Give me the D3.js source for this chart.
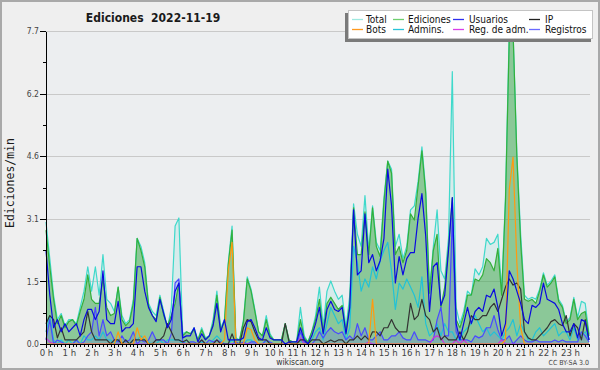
<!DOCTYPE html>
<html>
<head>
<meta charset="utf-8">
<style>

body {
  margin: 0;
  background: #efefef;
}

.axis path,
.axis line {
  stroke: #000;
  shape-rendering: crispEdges;
}

.axis text {
  font-family: "DejaVu Sans Condensed", "DejaVu Sans", sans-serif;
  fill: #444;
}

.grid line {
  stroke: #c9c9c9;
  shape-rendering: crispEdges;
}

.serie {
  fill: none;
  stroke-width: 1.2;
  stroke-linejoin: round;
}

.legend text {
  font-family: "DejaVu Sans Condensed", "DejaVu Sans", sans-serif;
  font-size: 10px;
  fill: #111;
}

</style>
</head>
<body>
<svg width="600" height="370"></svg>
<script src="https://d3js.org/d3.v7.min.js"></script>
<script>

// edits per minute, one value every 10 minutes (144 slots)
var total = [
  3.0, 2.1, 1.2, 0.6, 0.75, 0.45,   0.6, 0.6, 0.5, 0.9, 1.3, 1.9,
  1.3, 1.9, 1.2, 2.2, 1.1, 1.0,     0.8, 1.4, 0.7, 0.5, 0.6, 1.1,
  2.6, 2.4, 2.0, 1.0, 0.8, 0.7,     1.2, 0.8, 0.4, 0.9, 2.9, 3.1,
  0.25, 0.3, 0.25, 0.4, 0.1, 0.4,   0.15, 0.2, 0.6, 1.3, 0.4, 0.6,
  2.0, 2.9, 0.15, 0.1, 0.6, 1.65,   1.35, 0.85, 0.3, 0.2, 0.7, 0.25,
  0.1, 0.1, 0.1, 0.5, 0.1, 0.05,    0.05, 0.9, 0.2, 0.05, 0.3, 0.7,
  1.4, 0.45, 1.3, 1.55, 1.3, 1.1,   1.2, 0.4, 1.2, 3.45, 2.7, 2.4,
  3.65, 2.3, 3.4, 2.5, 2.3, 3.6,    4.5, 4.3, 2.4, 2.7, 2.1, 2.4,
  3.3, 3.4, 4.0, 4.85, 3.8, 1.3,    2.4, 3.3, 1.8, 1.6, 2.6, 6.7,
  0.9, 0.5, 0.8, 1.3, 1.2, 1.85,    1.7, 1.9, 2.6, 2.45, 2.5, 2.7,
  1.3, 3.6, 7.7, 7.7, 4.7, 2.7,     1.2, 1.1, 1.15, 1.1, 1.35, 1.75,
  1.45, 1.55, 1.7, 1.1, 0.95, 0.55, 0.65, 1.15, 0.65, 1.05, 1.0, 0.25
];

var ediciones = [
  2.8, 1.9, 1.1, 0.5, 0.7, 0.4,     0.55, 0.6, 0.45, 0.8, 1.1, 1.7,
  1.1, 1.0, 1.0, 1.6, 0.9, 0.7,     0.75, 1.4, 0.6, 0.45, 0.55, 1.0,
  2.6, 2.3, 1.9, 0.95, 0.7, 0.6,    1.15, 0.7, 0.45, 0.7, 1.0, 1.5,
  0.2, 0.3, 0.25, 0.35, 0.1, 0.35,  0.12, 0.2, 0.5, 1.2, 0.35, 0.55,
  1.95, 2.8, 0.1, 0.1, 0.55, 1.6,   1.3, 0.8, 0.3, 0.2, 0.6, 0.2,
  0.1, 0.1, 0.1, 0.5, 0.1, 0.05,    0.05, 0.6, 0.15, 0.05, 0.3, 0.6,
  1.1, 0.3, 1.0, 1.15, 1.0, 0.85,   0.95, 0.3, 1.0, 3.35, 2.2, 2.2,
  3.25, 2.2, 3.35, 2.4, 2.15, 3.5,  4.5, 4.2, 2.2, 2.4, 2.0, 2.3,
  3.2, 3.05, 3.9, 4.75, 3.7, 1.25,  2.3, 2.7, 0.9, 1.4, 2.4, 3.6,
  0.6, 0.4, 0.7, 1.2, 1.2, 1.6,     1.55, 1.7, 2.1, 2.0, 1.8, 2.35,
  1.2, 3.5, 7.5, 7.7, 4.6, 2.5,     1.1, 1.05, 1.1, 1.0, 1.3, 1.7,
  1.4, 1.5, 1.65, 1.05, 0.9, 0.5,   0.6, 1.1, 0.6, 0.75, 0.8, 0.2
];

var usuarios = [
  2.3, 1.2, 0.4, 0.6, 0.3, 0.5,     0.3, 0.4, 0.5, 0.2, 0.6, 0.85,
  0.85, 0.6, 0.8, 1.8, 0.6, 0.5,    0.5, 1.05, 0.3, 0.4, 0.4, 0.5,
  1.9, 1.9, 1.3, 0.9, 0.7, 0.55,    1.1, 0.75, 0.4, 0.6, 1.3, 1.5,
  0.15, 0.2, 0.2, 0.4, 0.05, 0.25,  0.1, 0.2, 0.45, 1.0, 0.3, 0.6,
  0.1, 0.1, 0.1, 0.1, 0.15, 0.55,   0.6, 0.4, 0.15, 0.1, 0.4, 0.15,
  0.1, 0.1, 0.1, 0.0, 0.05, 0.05,   0.05, 0.4, 0.1, 0.0, 0.2, 0.5,
  0.9, 0.25, 0.85, 1.05, 0.85, 0.8, 0.9, 0.25, 0.9, 3.3, 1.7, 1.8,
  3.2, 2.0, 2.2, 1.8, 2.05, 2.6,    4.3, 3.4, 1.5, 2.15, 1.7, 2.1,
  2.25, 2.25, 3.1, 3.7, 2.65, 0.8,  1.9, 2.0, 0.95, 1.2, 2.3, 3.6,
  0.5, 0.1, 0.5, 0.9, 0.5, 0.8,     0.9, 0.8, 1.2, 1.15, 1.35, 0.9,
  0.2, 0.5, 1.8, 1.6, 1.3, 1.0,     0.6, 0.5, 0.95, 0.9, 1.0, 1.5,
  1.1, 1.05, 1.0, 0.85, 0.5, 0.3,   0.3, 0.5, 0.15, 0.6, 0.55, 0.1
];

var ip = [
  0.5, 0.7, 0.6, 0.15, 0.4, 0.1,    0.1, 0.1, 0.1, 0.2, 0.3, 0.8,
  0.3, 0.1, 0.1, 0.1, 0.1, 0.0,     0.1, 0.1, 0.0, 0.1, 0.0, 0.1,
  0.1, 0.1, 0.1, 0.0, 0.0, 0.1,     0.1, 0.2, 0.5, 0.3, 0.1, 0.1,
  0.05, 0.1, 0.0, 0.0, 0.0, 0.1,    0.0, 0.0, 0.0, 0.1, 0.0, 0.0,
  0.0, 0.25, 0.0, 0.0, 0.4, 0.6,    0.55, 0.3, 0.1, 0.1, 0.1, 0.0,
  0.0, 0.0, 0.0, 0.5, 0.05, 0.0,    0.0, 0.1, 0.1, 0.0, 0.1, 0.1,
  0.1, 0.0, 0.05, 0.1, 0.05, 0.1,   0.1, 0.0, 0.1, 0.1, 0.2, 0.1,
  0.2, 0.1, 0.3, 0.3, 0.2, 0.4,     0.4, 0.6, 0.4, 0.3, 0.3, 0.3,
  1.0, 0.6, 0.7, 1.1, 0.7, 0.6,     0.3, 0.4, 0.1, 0.2, 0.1, 0.1,
  0.1, 0.3, 0.1, 0.3, 0.7, 0.6,     0.6, 0.7, 0.7, 0.9, 1.0, 0.8,
  1.1, 1.4, 1.6, 1.45, 1.5, 1.35,   0.3, 0.15, 0.1, 0.1, 0.2, 0.3,
  0.4, 0.55, 0.6, 0.5, 0.45, 0.7,   0.2, 0.5, 0.4, 0.1, 0.6, 0.1
];

var bots = [
  0, 0, 0, 0, 0, 0,       0, 0, 0, 0, 0, 0,
  0, 0, 0, 0, 0, 0,       0, 0.3, 0, 0, 0, 0,
  0.4, 0.1, 0.2, 0, 0, 0, 0, 0, 0, 0, 0, 0,
  0, 0, 0, 0, 0, 0,       0, 0, 0, 0, 0, 0.1,
  1.8, 2.5, 0, 0, 0, 0.4, 0.35, 0.1, 0, 0, 0, 0,
  0, 0, 0, 0, 0, 0,       0, 0, 0, 0, 0, 0,
  0, 0, 0, 0, 0, 0,       0, 0, 0, 0, 0, 0,
  0, 0, 1.1, 0, 0, 0,     0, 0, 0, 0, 0, 0,
  0, 0, 0, 0, 0, 0,       0, 0, 0, 0, 0, 0,
  0, 0, 0, 0, 0, 0,       0, 0, 0, 0, 0, 0,
  0, 0.1, 3.8, 4.6, 2.0, 0.4, 0, 0, 0, 0, 0, 0,
  0, 0, 0, 0, 0, 0,       0, 0, 0, 0, 0, 0
];

var admins = [
  0.3, 0.7, 0.1, 0.0, 0.1, 0.0,     0.1, 0.0, 0.1, 0.0, 0.2, 0.1,
  0.1, 0.2, 0.1, 0.3, 0.1, 0.1,     0.0, 0.1, 0.0, 0.1, 0.0, 0.1,
  0.1, 0.2, 0.1, 0.05, 0.0, 0.0,    0.1, 0.0, 0.1, 0.1, 0.1, 0.1,
  0.0, 0.1, 0.0, 0.0, 0.0, 0.05,    0.0, 0.0, 0.1, 0.2, 0.1, 0.0,
  0.0, 0.1, 0.0, 0.0, 0.0, 0.1,     0.1, 0.0, 0.0, 0.0, 0.1, 0.0,
  0.0, 0.0, 0.0, 0.0, 0.0, 0.0,     0.0, 0.1, 0.0, 0.0, 0.1, 0.3,
  0.4, 0.1, 0.5, 0.9, 0.7, 0.5,     0.6, 0.1, 0.4, 2.4, 2.0, 1.3,
  1.6, 1.4, 1.9, 1.6, 2.05, 2.3,    2.5, 1.8, 0.85, 1.5, 1.35, 1.6,
  1.4, 1.2, 0.9, 1.65, 0.5, 0.2,    0.3, 0.5, 0.2, 0.5, 0.3, 0.3,
  0.1, 0.1, 0.3, 0.4, 0.5, 0.7,     0.5, 0.3, 0.4, 0.2, 0.3, 0.2,
  0.1, 0.3, 0.4, 0.6, 0.2, 0.5,     0.3, 0.1, 0.1, 0.3, 0.4, 0.2,
  0.3, 0.4, 0.5, 0.2, 0.3, 0.3,     0.1, 0.4, 0.1, 0.2, 0.3, 0.1
];

var regAdm = [
  0.15, 0.05, 0, 0, 0, 0, 0, 0, 0, 0, 0, 0,
  0, 0, 0, 0, 0, 0,       0, 0, 0, 0, 0, 0,
  0, 0, 0, 0, 0, 0,       0, 0, 0, 0, 0, 0,
  0, 0, 0, 0, 0, 0,       0, 0, 0, 0, 0, 0,
  0, 0, 0, 0, 0, 0,       0, 0, 0, 0, 0, 0,
  0, 0, 0, 0, 0, 0,       0, 0.15, 0, 0, 0, 0,
  0, 0, 0, 0, 0, 0,       0, 0, 0, 0, 0, 0,
  0, 0.05, 0, 0, 0, 0,    0, 0, 0, 0, 0, 0,
  0, 0, 0, 0, 0, 0,       0.15, 0.2, 0.15, 0, 0, 0,
  0.1, 0, 0.1, 0, 0, 0,   0, 0, 0, 0, 0, 0,
  0.1, 0, 0, 0, 0, 0,     0, 0, 0, 0, 0, 0,
  0, 0, 0, 0, 0, 0,       0, 0, 0, 0, 0, 0
];

var registros = [
  0.1, 0.6, 0.0, 0.1, 0.05, 0.0,    0.0, 0.0, 0.1, 0.0, 0.05, 0.2,
  0.3, 0.9, 0.2, 0.6, 0.2, 0.3,     0.1, 0.05, 0.2, 0.05, 0.1, 0.3,
  0.0, 0.1, 0.05, 0.1, 0.3, 0.1,    0.1, 0.1, 0.0, 0.25, 1.5, 1.6,
  0.05, 0.0, 0.05, 0.05, 0.0, 0.1,  0.0, 0.1, 0.05, 0.1, 0.05, 0.0,
  0.0, 0.0, 0.05, 0.0, 0.05, 0.0,   0.05, 0.05, 0.0, 0.0, 0.1, 0.05,
  0, 0, 0, 0, 0, 0,                 0.0, 0.3, 0.05, 0.0, 0.0, 0.1,
  0.3, 0.15, 0.3, 0.4, 0.3, 0.25,   0.3, 0.1, 0.2, 0.1, 0.5, 0.2,
  0.4, 0.1, 0.1, 0.2, 0.3, 0.1,     0.1, 0.2, 0.2, 0.3, 0.15, 0.1,
  0.1, 0.3, 0.1, 0.1, 0.1, 0.05,    0.1, 0.6, 0.9, 0.2, 0.2, 3.1,
  0.3, 0.1, 0.1, 0.1, 0.05, 0.2,    0.15, 0.2, 0.4, 0.4, 0.7, 0.35,
  0.1, 0.1, 0.2, 0.0, 0.1, 0.2,     0.1, 0.05, 0.05, 0.1, 0.05, 0.05,
  0.05, 0.05, 0.1, 0.05, 0.1, 0.05, 0.05, 0.05, 0.05, 0.3, 0.2, 0.05
];

var yMax = 7.7;
var yTicks = [0, 1.54, 3.08, 4.62, 6.16, 7.7];
var hourLabels = d3.range(24).map(function(h) { return h + " h"; });

var legendItems = [
  {name: "Total", color: "#9fe9e0"},
  {name: "Ediciones", color: "#6fcf6f"},
  {name: "Usuarios", color: "#2f2fee"},
  {name: "IP", color: "#222222"},
  {name: "Bots", color: "#ff9a20"},
  {name: "Admins.", color: "#28c4d8"},
  {name: "Reg. de adm.", color: "#d83ee8"},
  {name: "Registros", color: "#6a6aff"}
];

var svg = d3.select("svg"),
    width = +svg.attr("width"),
    height = +svg.attr("height");

var plotLeft = 46, plotRight = 589, plotTop = 31, plotBottom = 344;

var x = d3.scaleLinear()
    .domain([0, total.length - 1])
    .range([plotLeft, plotRight]);

var xMin = d3.scaleLinear()
    .domain([0, 1430])
    .range([plotLeft, plotRight]);

var y = d3.scaleLinear()
    .domain([0, yMax])
    .range([plotBottom, plotTop]);

// background and frame
svg.append("rect")
    .attr("x", 1).attr("y", 1)
    .attr("width", width - 2).attr("height", height - 2)
    .attr("fill", "#efefef")
    .attr("stroke", "#a9a9a9")
    .attr("stroke-width", 2);

svg.append("rect")
    .attr("x", plotLeft).attr("y", plotTop)
    .attr("width", plotRight - plotLeft + 1).attr("height", plotBottom - plotTop)
    .attr("fill", "#eceef0");

// grid
svg.append("g")
    .attr("class", "grid")
  .selectAll("line")
  .data(yTicks.slice(1))
  .enter().append("line")
    .attr("x1", plotLeft).attr("x2", plotRight + 1)
    .attr("y1", function(d) { return Math.round(y(d)) + 0.5; })
    .attr("y2", function(d) { return Math.round(y(d)) + 0.5; });

// areas
function area(values) {
  return d3.area()
      .x(function(d, i) { return x(i); })
      .y0(plotBottom)
      .y1(function(d) { return y(d); })(values);
}

function line(values) {
  return d3.line()
      .x(function(d, i) { return x(i); })
      .y(function(d) { return y(d); })(values);
}

svg.append("path").attr("d", area(total)).attr("fill", "rgba(80,220,200,0.13)");
svg.append("path").attr("d", area(ediciones)).attr("fill", "rgba(50,160,55,0.46)");
svg.append("path").attr("d", area(registros)).attr("fill", "rgba(80,80,255,0.2)");

var series = [
  {values: total, color: "#3fd9cb", w: 1.3},
  {values: ediciones, color: "#33b03a", w: 1.5},
  {values: admins, color: "#22c2d6", w: 1.1},
  {values: registros, color: "#4a4aff", w: 1.1},
  {values: regAdm, color: "#cc33dd", w: 1.1},
  {values: ip, color: "#333333", w: 1.1},
  {values: bots, color: "#ff9a10", w: 1.3},
  {values: usuarios, color: "#0a0ae0", w: 1.3}
];

svg.append("g")
  .selectAll("path")
  .data(series)
  .enter().append("path")
    .attr("class", "serie")
    .attr("d", function(d) { return line(d.values); })
    .attr("stroke", function(d) { return d.color; })
    .attr("stroke-width", function(d) { return d.w; });

// y axis
var yAxis = svg.append("g")
    .attr("class", "axis")
    .attr("transform", "translate(" + plotLeft + ",0)")
    .call(d3.axisLeft(y)
      .tickValues(yTicks)
      .tickSize(6)
      .tickSizeOuter(0)
      .tickPadding(1)
      .tickFormat(d3.format(".1f")));
yAxis.selectAll("text").attr("font-size", 8.5);

svg.append("g")
    .attr("class", "axis")
    .attr("transform", "translate(" + plotLeft + ",0)")
    .call(d3.axisLeft(y)
      .tickValues(d3.range(5).map(function(k) { return (yTicks[k] + yTicks[k + 1]) / 2; }))
      .tickSize(3)
      .tickFormat(""))
    .select(".domain").remove();

// x axis
svg.append("g")
    .attr("class", "axis")
    .attr("transform", "translate(0," + plotBottom + ")")
    .call(d3.axisBottom(xMin)
      .tickValues(d3.range(0, 1431, 10))
      .tickSize(3)
      .tickSizeOuter(0)
      .tickFormat(""));

var xAxis = svg.append("g")
    .attr("class", "axis")
    .attr("transform", "translate(0," + plotBottom + ")")
    .call(d3.axisBottom(xMin)
      .tickValues(d3.range(0, 1431, 60))
      .tickSize(4)
      .tickPadding(1)
      .tickFormat(function(d) { return hourLabels[d / 60]; }));
xAxis.select(".domain").remove();
xAxis.selectAll("text").attr("font-size", 9.5);

// titles
svg.append("text")
    .attr("x", 153).attr("y", 21.5)
    .attr("text-anchor", "middle")
    .style("font-family", "'DejaVu Sans Condensed', 'DejaVu Sans', sans-serif")
    .style("font-weight", "bold")
    .style("font-size", "12px")
    .style("white-space", "pre")
    .attr("fill", "#1a1a1a")
    .text("Ediciones  2022-11-19");

svg.append("text")
    .attr("transform", "translate(14,183) rotate(-90)")
    .attr("text-anchor", "middle")
    .style("font-family", "'DejaVu Sans Mono', monospace")
    .style("font-size", "11.5px")
    .attr("fill", "#1a1a1a")
    .text("Ediciones/min");

svg.append("text")
    .attr("x", 300).attr("y", 365)
    .attr("text-anchor", "middle")
    .style("font-family", "'DejaVu Sans Condensed', 'DejaVu Sans', sans-serif")
    .style("font-size", "8.5px")
    .attr("fill", "#333")
    .text("wikiscan.org");

svg.append("text")
    .attr("x", 589).attr("y", 365)
    .attr("text-anchor", "end")
    .style("font-family", "'DejaVu Sans Condensed', 'DejaVu Sans', sans-serif")
    .style("font-size", "7px")
    .attr("fill", "#444")
    .text("CC BY-SA 3.0");

// legend
var legend = svg.append("g").attr("class", "legend");

legend.append("rect")
    .attr("x", 345).attr("y", 13)
    .attr("width", 246).attr("height", 29)
    .attr("fill", "#7a7a7a");

legend.append("rect")
    .attr("x", 348.5).attr("y", 10.5)
    .attr("width", 244).attr("height", 28)
    .attr("fill", "#fff")
    .attr("stroke", "#c4c4c4");

var colX = [352, 393, 453, 529],
    textX = [366, 408, 469, 545],
    rowY = [19, 29];

var entry = legend.selectAll(".entry")
  .data(legendItems)
  .enter().append("g")
    .attr("class", "entry");

entry.append("line")
    .attr("x1", function(d, i) { return colX[i % 4]; })
    .attr("x2", function(d, i) { return colX[i % 4] + 11; })
    .attr("y1", function(d, i) { return rowY[Math.floor(i / 4)] + 0.5; })
    .attr("y2", function(d, i) { return rowY[Math.floor(i / 4)] + 0.5; })
    .attr("stroke", function(d) { return d.color; })
    .attr("stroke-width", 1.3);

entry.append("text")
    .attr("x", function(d, i) { return textX[i % 4]; })
    .attr("y", function(d, i) { return rowY[Math.floor(i / 4)] + 3.8; })
    .text(function(d) { return d.name; });

</script>
</body>
</html>
